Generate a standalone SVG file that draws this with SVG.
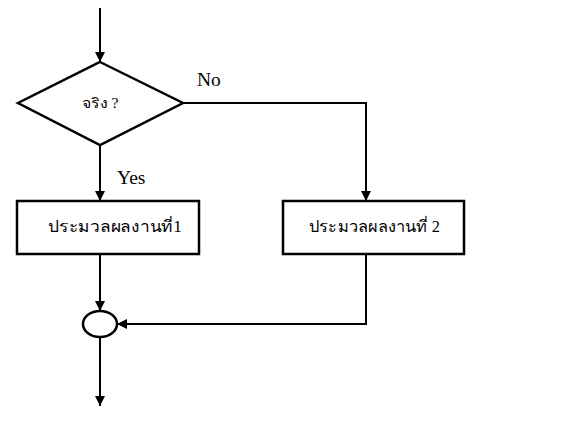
<svg xmlns="http://www.w3.org/2000/svg" width="576" height="432" viewBox="0 0 576 432">
<style>
.s{fill:none;stroke:#000;stroke-width:2}
.n{fill:#fff;stroke:#000;stroke-width:2.5}
.t{font-family:"Liberation Serif","Times New Roman",serif;fill:#000}
</style>
<defs>
<marker id="a" markerWidth="10" markerHeight="12" refX="10" refY="5" orient="auto" markerUnits="userSpaceOnUse" viewBox="0 0 10 10">
<path d="M0,0 L10,5 L0,10 Z" fill="#000"/>
</marker>
</defs>
<rect width="576" height="432" fill="#fff"/>
<g id="connectors">
<line class="s" x1="100" y1="8" x2="100" y2="62" marker-end="url(#a)"/>
<line class="s" x1="100" y1="145" x2="100" y2="201" marker-end="url(#a)"/>
<polyline class="s" points="183,103 366,103 366,201" marker-end="url(#a)"/>
<line class="s" x1="100" y1="254" x2="100" y2="311" marker-end="url(#a)"/>
<polyline class="s" points="366,254 366,324 117,324" marker-end="url(#a)"/>
<line class="s" x1="100" y1="337" x2="100" y2="406" marker-end="url(#a)"/>
<text class="t" x="197" y="86" font-size="19.5">No</text>
<text class="t" x="117" y="184" font-size="19.5">Yes</text>
</g>
<g id="decision">
<polygon class="n" points="100,62 183,103 100,145 18,103"/>
<text class="t" x="100" y="108" font-size="14" text-anchor="middle" textLength="37" lengthAdjust="spacingAndGlyphs">จริง ?</text>
</g>
<g id="process1">
<rect class="n" x="17" y="201" width="182" height="53"/>
<text class="t" x="48" y="232" font-size="16" textLength="134" lengthAdjust="spacingAndGlyphs">ประมวลผลงานที่1</text>
</g>
<g id="process2">
<rect class="n" x="283" y="201" width="181" height="53"/>
<text class="t" x="309" y="232" font-size="16" textLength="131" lengthAdjust="spacingAndGlyphs">ประมวลผลงานที่ 2</text>
</g>
<g id="connector-circle">
<ellipse class="n" cx="100" cy="324" rx="17" ry="13"/>
</g>
</svg>
